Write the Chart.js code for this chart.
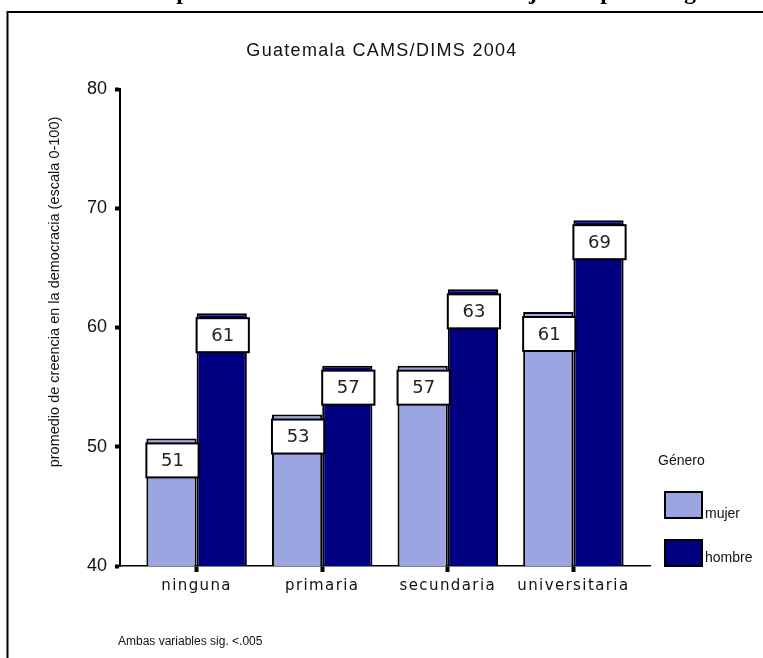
<!DOCTYPE html>
<html>
<head>
<meta charset="utf-8">
<script src="https://cdn.jsdelivr.net/npm/chart.js@4.4.1/dist/chart.umd.min.js"></script>
<style>
html,body{margin:0;padding:0;background:#fff;}
#wrap{position:absolute;left:0;top:0;width:763px;height:658px;}
</style>
</head>
<body>
<div id="wrap"><canvas id="c" width="763" height="658"></canvas></div>
<script>
// ---- data ----
const categories = ['ninguna', 'primaria', 'secundaria', 'universitaria'];
const mujer = [50.7, 52.7, 56.8, 61.3];
const hombre = [61.2, 56.8, 63.2, 69.0];
const seriesNames = ['mujer', 'hombre'];
const yTicks = [40, 50, 60, 70, 80];
const chartTitle = 'Guatemala CAMS/DIMS 2004';
const yTitle = 'promedio de creencia en la democracia (escala 0-100)';
const legendTitle = 'Género';
const footnote = 'Ambas variables sig. <.005';
// page heading (only its lowest part is visible in the picture)
const headingPieces = [
  ['Gráfico 3. Creencia promedio en la democracia', 'p'],
  ['de mujeres', 'j'],
  ['por', 'p'],
  ['género', 'g']
];
const headingTargets = [183, 533, 607, 690];

const colors = ['#9ba5e2', '#000080'];

const toPoints = arr => arr.map((v, i) => ({x: i, y: v}));

const decorPlugin = {
  id: 'decor',
  beforeDraw(chart) {
    const ctx = chart.ctx;
    ctx.save();
    ctx.fillStyle = '#fff';
    ctx.fillRect(0, 0, chart.width, chart.height);
    ctx.restore();
    ctx.letterSpacing = '1.4px';
  },
  beforeDatasetsDraw(chart) {
    chart.ctx.letterSpacing = '0px';
  },
  afterDatasetsDraw(chart) {
    const ctx = chart.ctx;
    ctx.save();
    chart.data.datasets.forEach((ds, d) => {
      const meta = chart.getDatasetMeta(d);
      meta.data.forEach((bar, i) => {
        const p = bar.getProps(['x', 'y', 'width'], true);
        const left = p.x - p.width / 2;
        const top = p.y + 5;
        const w = p.width + 2, h = 34;
        ctx.fillStyle = '#fff';
        ctx.fillRect(left, top, w, h);
        ctx.strokeStyle = '#000';
        ctx.lineWidth = 2;
        ctx.strokeRect(left, top, w, h);
        ctx.fillStyle = '#222';
        ctx.font = '18px "DejaVu Sans"';
        ctx.textAlign = 'center';
        ctx.textBaseline = 'middle';
        ctx.fillText(String(Math.round(ds.data[i].y)), left + w / 2, top + h / 2 + 1);
      });
    });
    ctx.restore();
  },
  afterDraw(chart) {
    const ctx = chart.ctx;
    ctx.save();
    ctx.letterSpacing = '0px';
    // frame
    ctx.strokeStyle = '#000';
    ctx.lineWidth = 2;
    ctx.beginPath();
    ctx.moveTo(7.5, 658);
    ctx.lineTo(7.5, 12);
    ctx.lineTo(763, 12);
    ctx.stroke();
    // heading (cut at top edge)
    ctx.font = 'bold 24px "Liberation Serif"';
    ctx.fillStyle = '#000';
    ctx.textBaseline = 'alphabetic';
    ctx.textAlign = 'left';
    headingPieces.forEach((pc, k) => {
      const [txt, ch] = pc;
      const idx = txt.indexOf(ch);
      const before = ctx.measureText(txt.slice(0, idx)).width;
      const cw = ctx.measureText(ch).width;
      ctx.fillText(txt, headingTargets[k] - before - cw / 2, -1.2);
    });
    // chart title
    ctx.font = '18px "Liberation Sans"';
    ctx.letterSpacing = '1.3px';
    ctx.textAlign = 'center';
    ctx.textBaseline = 'middle';
    ctx.fillStyle = '#111';
    ctx.fillText(chartTitle, 382, 51);
    ctx.letterSpacing = '0px';
    // y axis title
    ctx.save();
    ctx.translate(55, 292);
    ctx.rotate(-Math.PI / 2);
    ctx.font = '14.5px "Liberation Sans"';
    ctx.textAlign = 'center';
    ctx.textBaseline = 'middle';
    ctx.fillText(yTitle, 0, 0);
    ctx.restore();
    // legend
    ctx.font = '14px "Liberation Sans"';
    ctx.textAlign = 'left';
    ctx.textBaseline = 'middle';
    ctx.fillText(legendTitle, 658, 461);
    const boxY = [492, 540];
    const labY = [514, 558];
    chart.data.datasets.forEach((ds, d) => {
      ctx.fillStyle = ds.backgroundColor;
      ctx.fillRect(665, boxY[d], 37, 26);
      ctx.strokeStyle = '#000';
      ctx.lineWidth = 2;
      ctx.strokeRect(665, boxY[d], 37, 26);
      ctx.fillStyle = '#111';
      ctx.fillText(ds.label, 705, labY[d]);
    });
    // footnote
    ctx.font = '12px "Liberation Sans"';
    ctx.fillStyle = '#111';
    ctx.fillText(footnote, 118, 642);
    ctx.restore();
  }
};

new Chart(document.getElementById('c'), {
  type: 'bar',
  data: {
    datasets: seriesNames.map((name, d) => ({
      label: name,
      data: toPoints(d === 0 ? mujer : hombre),
      backgroundColor: colors[d],
      borderColor: '#000',
      borderWidth: 2,
      categoryPercentage: 0.8,
      barPercentage: 1.0
    }))
  },
  options: {
    responsive: false,
    animation: false,
    devicePixelRatio: 1,
    layout: {padding: {top: 89, right: 113, left: 0, bottom: 0}},
    plugins: {legend: {display: false}, tooltip: {enabled: false}, title: {display: false}},
    scales: {
      x: {
        type: 'linear',
        min: -0.61,
        max: 3.61,
        offset: false,
        afterBuildTicks: s => { s.ticks = categories.map((c, i) => ({value: i})); },
        afterFit: s => { s.height = 658 - 566; },
        ticks: {
          callback: v => categories[v],
          autoSkip: false,
          maxRotation: 0,
          color: '#111',
          font: {family: 'DejaVu Sans', size: 15},
          padding: 5
        },
        grid: {offset: false, drawOnChartArea: false, drawTicks: true, tickLength: 6, tickWidth: 4, tickColor: '#000'},
        border: {display: true, color: '#000', width: 1.5}
      },
      y: {
        min: 40,
        max: 80,
        beginAtZero: false,
        afterBuildTicks: s => { s.ticks = yTicks.map(v => ({value: v})); },
        afterFit: s => { s.width = 120; },
        ticks: {
          z: 1,
          color: '#111',
          font: {family: 'Liberation Sans', size: 18},
          padding: 8
        },
        grid: {drawOnChartArea: false, drawTicks: true, tickLength: 5, tickWidth: 4, tickColor: '#000'},
        border: {display: true, color: '#000', width: 2}
      }
    }
  },
  plugins: [decorPlugin]
});
</script>
</body>
</html>
